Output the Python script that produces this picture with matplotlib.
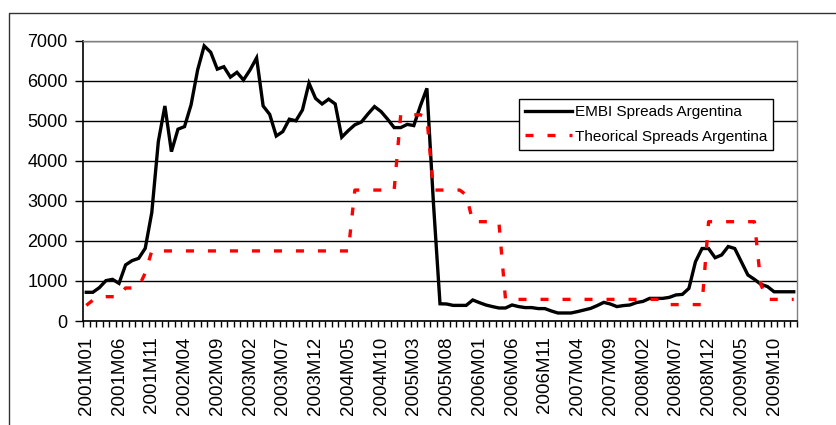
import numpy as np
import matplotlib.pyplot as plt
from matplotlib.lines import Line2D

plt.rcParams['font.family'] = ['Liberation Sans', 'DejaVu Sans']

# meses 2001M01 .. 2010M01
meses = []
for anio in range(2001, 2011):
    for m in range(1, 13):
        meses.append("%dM%02d" % (anio, m))
meses = meses[:109]

embi = [717, 717, 833, 1008, 1040, 940, 1400, 1508, 1565, 1815,
        2708, 4480, 5370, 4230, 4790, 4855, 5400, 6270, 6870, 6710,
        6290, 6350, 6090, 6210, 6020, 6270, 6570, 5370, 5160, 4620,
        4730, 5040, 5000, 5270, 5940, 5560, 5420, 5540, 5420, 4590,
        4755, 4900, 4970, 5170, 5355, 5230, 5040, 4830, 4830, 4910,
        4880, 5370, 5810, 2940, 430, 425, 390, 390, 390, 525,
        460, 400, 360, 325, 325, 400, 360, 335, 335, 310,
        310, 250, 200, 200, 200, 235, 275, 315, 385, 465,
        425, 360, 385, 400, 460, 490, 565, 565, 565, 590,
        650, 665, 815, 1480, 1810, 1810, 1580, 1650, 1860, 1810,
        1480, 1150, 1040, 915, 860, 730, 730, 730, 730]

teorico = [390, 520, 600, 608, 608, 608, 825, 825, 850, 1200,
           1750, 1750, 1750, 1750, 1750, 1750, 1750, 1750, 1750, 1750,
           1750, 1750, 1750, 1750, 1750, 1750, 1750, 1750, 1750, 1750,
           1750, 1750, 1750, 1750, 1750, 1750, 1750, 1750, 1750, 1750,
           1750, 3270, 3270, 3270, 3270, 3270, 3270, 3270, 5150, 5150,
           5150, 5150, 5080, 3270, 3270, 3270, 3270, 3270, 3150, 2480,
           2480, 2480, 2480, 2450, 540, 540, 540, 540, 540, 540,
           540, 540, 540, 540, 540, 540, 540, 540, 540, 540,
           540, 540, 540, 540, 540, 540, 540, 540, 540, 410,
           410, 410, 410, 410, 410, 2480, 2480, 2480, 2480, 2480,
           2480, 2480, 2480, 900, 540, 540, 540, 540, 540]

W, H = 837, 425
fig = plt.figure(figsize=(W/100, H/100), dpi=100)
ax = fig.add_axes([83/W, 1 - 321/H, (797 - 83)/W, (321 - 40.7)/H])

x = np.arange(len(meses))
ax.plot(x, embi, color='black', lw=2.4, solid_joinstyle='miter',
        label='EMBI Spreads Argentina')
ax.plot(x, teorico, color='#ff0000', lw=2.4, ls=(0, (2.4, 4.2)),
        label='Theorical Spreads Argentina')

ax.set_xlim(-0.5, len(meses) - 0.5)
ax.set_ylim(0, 7000)
ax.set_yticks(np.arange(0, 7001, 1000))
ax.yaxis.grid(True, color='black', lw=1)
ax.set_axisbelow(True)

ax.set_xticks(x[::5])
ax.set_xticklabels(meses[::5], rotation=90, fontsize=13.5)
ax.set_xticks(np.arange(-0.5, len(meses)), minor=True)
ax.tick_params(axis='x', which='major', length=0, pad=11)
ax.tick_params(axis='x', which='minor', length=4, width=1, direction='out')
ax.tick_params(axis='y', length=6, width=1, pad=5, labelsize=13)

for s in ['left', 'bottom']:
    ax.spines[s].set_color('black')
    ax.spines[s].set_linewidth(1.2)
for s in ['top', 'right']:
    ax.spines[s].set_color('#808080')
    ax.spines[s].set_linewidth(1)

leg = ax.legend(loc='upper left', bbox_to_anchor=(519/W, 1 - 99/H),
                bbox_transform=fig.transFigure, fontsize=11, frameon=True,
                fancybox=False, framealpha=1, edgecolor='black',
                handlelength=3.1, handletextpad=0.15, borderpad=0.4,
                labelspacing=0.7, borderaxespad=0)
leg.get_frame().set_linewidth(1)

# marco exterior del grafico
fig.add_artist(Line2D([9/W, 9/W, 1], [0, 1 - 13/H, 1 - 13/H],
                      transform=fig.transFigure, color='#333333', lw=1))

fig.savefig('out.png', dpi=100)
